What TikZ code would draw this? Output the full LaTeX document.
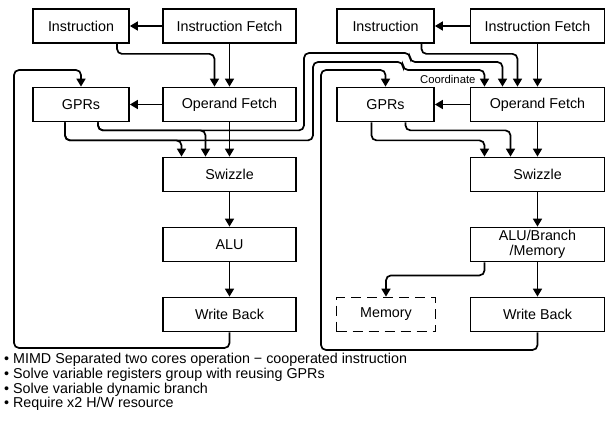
\documentclass[tikz,border=0pt]{standalone}
\usepackage{fontspec}
\setmainfont{Liberation Sans}
\usetikzlibrary{arrows.meta}
\begin{document}
\begin{tikzpicture}[x=1pt,y=-1pt,font=\fontsize{14.3}{15}\selectfont,
  box/.style={draw,line width=1.8pt,minimum height=34pt,inner sep=0pt,align=center},
  arr/.style={line width=1.7pt,rounded corners=5pt,-{Triangle[length=8pt,width=9pt]}}]
  \useasboundingbox (0,0) rectangle (606,428);
  % left core
  \node[box,minimum width=96pt]  (lIns) at (81,26)    {Instruction};
  \node[box,minimum width=133pt] (lIF)  at (229.5,26) {Instruction Fetch};
  \node[box,minimum width=96pt]  (lGPR) at (81,104.5) {GPRs};
  \node[box,minimum width=133pt] (lOF)  at (229.5,104.5) {Operand Fetch};
  \node[box,minimum width=133pt] (lSw)  at (229.5,174.5) {Swizzle};
  \node[box,minimum width=133pt] (lALU) at (229.5,244.5) {ALU};
  \node[box,minimum width=133pt] (lWB)  at (229.5,314.5) {Write Back};
  % right core
  \node[box,minimum width=97pt]  (rIns) at (385.5,26) {Instruction};
  \node[box,minimum width=134pt] (rIF)  at (537.5,26)   {Instruction Fetch};
  \node[box,minimum width=97pt]  (rGPR) at (385.5,104.5) {GPRs};
  \node[box,minimum width=134pt] (rOF)  at (537.5,104.5) {Operand Fetch};
  \node[box,minimum width=134pt] (rSw)  at (537.5,174.5) {Swizzle};
  \node[box,minimum width=134pt,font=\fontsize{14.3}{14.5}\selectfont] (rALU) at (537.5,244.5) {ALU/Branch\\/Memory};
  \node[box,minimum width=134pt] (rWB)  at (537.5,314.5) {Write Back};
  \node[box,minimum width=99pt,dashed,dash pattern=on 10pt off 6pt] (rMem) at (386,314.5) {Memory};
  \coordinate (lLoopB) at (14,348);
  \coordinate (lLoopT) at (14,70);
  \coordinate (rLoopB) at (321,350);
  \coordinate (rLoopT) at (321,70);
  \coordinate (xa1) at (304,53);
  \coordinate (xa2) at (410,62);
  \coordinate (xb1) at (313,62);
  \coordinate (xb2) at (403,70);
  % left connectors
  \draw[arr] (lIF) -- (lIns);
  \draw[arr] ([xshift=36pt]lIns.south) -- ++(0,10) -| ([xshift=-15pt]lOF.north);
  \draw[arr] (lIF) -- (lOF);
  \draw[arr] (lOF) -- (lGPR);
  \draw[arr] ([xshift=-16pt]lGPR.south) -- ++(0,18) -| ([xshift=-48pt]lSw.north);
  \draw[arr] ([xshift=17pt]lGPR.south) -- ++(0,8) -| ([xshift=-24pt]lSw.north);
  \draw[arr] (lOF) -- (lSw);
  \draw[arr] (lSw) -- (lALU);
  \draw[arr] (lALU) -- (lWB);
  \draw[arr] (lWB.south) |- (lLoopB) -- (lLoopT) -| (lGPR.north);
  % coordinate paths to the right core
  \draw[arr] ([xshift=17pt]lGPR.south) -- ++(0,8) -| (xa1) -| (xa2) -| ([xshift=-35pt]rOF.north);
  \draw[arr] ([xshift=-16pt]lGPR.south) -- ++(0,18) -| (xb1) -| (xb2) -| ([xshift=-53pt]rOF.north);
  \node[anchor=east,font=\fontsize{11.3}{12}\selectfont] (coord) at (479,79) {Coordinate};
  % right connectors
  \draw[arr] (rIF) -- (rIns);
  \draw[arr] ([xshift=36pt]rIns.south) -- ++(0,10) -| ([xshift=-20pt]rOF.north);
  \draw[arr] (rIF) -- (rOF);
  \draw[arr] (rOF) -- (rGPR);
  \draw[arr] ([xshift=-14pt]rGPR.south) -- ++(0,18) -| ([xshift=-53pt]rSw.north);
  \draw[arr] ([xshift=20pt]rGPR.south) -- ++(0,8) -| ([xshift=-27pt]rSw.north);
  \draw[arr] (rOF) -- (rSw);
  \draw[arr] (rSw) -- (rALU);
  \draw[arr] (rALU) -- (rWB);
  \draw[arr] ([xshift=-53pt]rALU.south) -- ++(0,13) -| (rMem.north);
  \draw[arr] (rWB.south) |- (rLoopB) -- (rLoopT) -| (rGPR.north);
  % notes
  \foreach \txt/\y [count=\i] in {{MIMD Separated two cores operation − cooperated instruction}/360,
      {Solve variable registers group with reusing GPRs}/374.7,
      {Solve variable dynamic branch}/389.4,
      {Require x2 H/W resource}/404} {
    \node[anchor=west,inner sep=0pt,font=\fontsize{14.3}{16}\selectfont] (note\i) at (4,\y) {\textbullet\ \txt};
  }
\end{tikzpicture}
\end{document}
